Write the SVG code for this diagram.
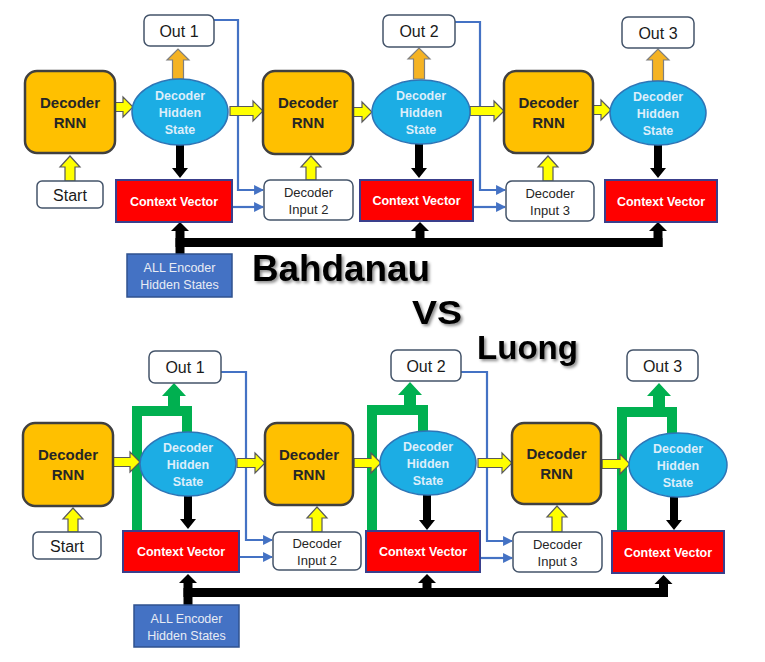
<svg xmlns="http://www.w3.org/2000/svg" width="765" height="662" viewBox="0 0 765 662">
<style>
.rnn{fill:#FFC000;stroke:#404040;stroke-width:2.5}
.rnnt{font-family:"Liberation Sans",Arial,sans-serif;font-weight:bold;font-size:15px;fill:#262626;text-anchor:middle}
.ell{fill:#1CADE4;stroke:#2E75B6;stroke-width:1.5}
.ellt{font-family:"Liberation Sans",Arial,sans-serif;font-weight:bold;font-size:12.5px;fill:#DDEEFA;text-anchor:middle}
.ctx{fill:#FF0000;stroke:#3A3F8C;stroke-width:2}
.ctxt{font-family:"Liberation Sans",Arial,sans-serif;font-weight:bold;font-size:12.5px;fill:#FFFFFF;text-anchor:middle}
.wbox{fill:#FFFFFF;stroke:#44546A;stroke-width:1.5}
.wt{font-family:"Liberation Sans",Arial,sans-serif;font-size:16px;fill:#1A1A1A;text-anchor:middle}
.it{font-family:"Liberation Sans",Arial,sans-serif;font-size:13px;fill:#262626;text-anchor:middle}
.enc{fill:#4472C4;stroke:#2F528F;stroke-width:1.5}
.enct{font-family:"Liberation Sans",Arial,sans-serif;font-size:12.5px;fill:#E8ECF4;text-anchor:middle}
.yel{fill:#FFFF00;stroke:#595959;stroke-width:1.2;stroke-linejoin:miter}
.org{fill:#F5B323;stroke:#7F7F7F;stroke-width:1.2}
.blk{fill:#000000}
.bus{stroke:#000000;stroke-width:9;fill:none}
.blue{stroke:#4472C4;stroke-width:2.2;fill:none;marker-end:url(#ah)}
.grn{stroke:#00B050;stroke-width:10;fill:none;stroke-linejoin:miter}
.grnf{fill:#00B050}
.title{font-family:"Liberation Sans",Arial,sans-serif;font-weight:bold;fill:#000000;filter:url(#sh)}
</style>
<defs>
<marker id="ah" viewBox="0 0 10 10" refX="9" refY="5" markerWidth="4.5" markerHeight="4.5" orient="auto" markerUnits="strokeWidth">
<path d="M0,0 L10,5 L0,10 Z" fill="#4472C4"/>
</marker>
<filter id="sh" x="-10%" y="-20%" width="130%" height="150%">
<feDropShadow dx="2" dy="2" stdDeviation="1.5" flood-color="#000000" flood-opacity="0.45"/>
</filter>
</defs>
<rect width="765" height="662" fill="#FFFFFF"/>

<g id="connectors">
<path class="blue" d="M214,20 H238 V190 H263"/>
<path class="blue" d="M232,207 H263"/>
<path class="blue" d="M455,22 H480 V190 H505"/>
<path class="blue" d="M473,207 H505"/>
<path class="bus" d="M180,254 V229"/>
<path class="bus" d="M175.5,242.5 H662.5"/>
<path class="bus" d="M420,247 V229"/>
<path class="bus" d="M658,247 V229"/>
<polygon class="blk" points="171,231 180,222 189,231"/>
<polygon class="blk" points="411,231 420,222 429,231"/>
<polygon class="blk" points="649,231 658,222 667,231"/>
<path class="blk" d="M176 145 V168 H172 L180 178 L188 168 H184 V145 Z"/>
<path class="blk" d="M415 144 V168 H411 L419 178 L427 168 H423 V144 Z"/>
<path class="blk" d="M654 145 V168 H650 L658 178 L666 168 H662 V145 Z"/>
<path class="yel" d="M115 102.5 H123 V97 L133 107 L123 117 V111.5 H115 Z"/>
<path class="yel" d="M230 106.5 H253 V101 L263 111 L253 121 V115.5 H230 Z"/>
<path class="yel" d="M353 107.5 H362 V102 L372 112 L362 122 V116.5 H353 Z"/>
<path class="yel" d="M470 106.5 H494 V101 L504 111 L494 121 V115.5 H470 Z"/>
<path class="yel" d="M593 105.5 H601 V100 L611 110 L601 120 V114.5 H593 Z"/>
<path class="yel" d="M65 181 V167 H60 L70 156 L80 167 H75 V181 Z"/>
<path class="yel" d="M306 180 V167 H301 L311 156 L321 167 H316 V180 Z"/>
<path class="yel" d="M543 181 V167 H538 L548 156 L558 167 H553 V181 Z"/>
<path class="org" d="M172.5 79 V60 H167 L178 49 L189 60 H183.5 V79 Z"/>
<path class="org" d="M413.5 79 V59 H408 L419 48 L430 59 H424.5 V79 Z"/>
<path class="org" d="M652.5 81 V60 H647 L658 49 L669 60 H663.5 V81 Z"/>

<path class="blue" d="M221,372 H246 V540 H272"/>
<path class="blue" d="M239,557 H272"/>
<path class="blue" d="M461,372 H487 V541 H512"/>
<path class="blue" d="M480,558 H512"/>
<path class="bus" d="M188,605 V581"/>
<path class="bus" d="M183.5,592.5 H668"/>
<path class="bus" d="M427,597 V581"/>
<path class="bus" d="M663.5,597 V581"/>
<polygon class="blk" points="179,583 188,574 197,583"/>
<polygon class="blk" points="418,583 427,574 436,583"/>
<polygon class="blk" points="654.5,584 663.5,575 672.5,584"/>
<path class="blk" d="M184 496 V519 H180 L188 529 L196 519 H192 V496 Z"/>
<path class="blk" d="M423 495 V520 H419 L427 530 L435 520 H431 V495 Z"/>
<path class="blk" d="M670 497 V520 H666 L674 530 L682 520 H678 V497 Z"/>
<path class="grn" d="M137,531 V411 H187 V440"/>
<path class="grnf" d="M168 408 V396 H162 L174 383 L186 396 H180 V408 Z"/>
<path class="grn" d="M372,531 V410 H423 V440"/>
<path class="grnf" d="M404 407 V395 H398 L410 382 L422 395 H416 V407 Z"/>
<path class="grn" d="M622,531 V412 H672 V440"/>
<path class="grnf" d="M653 409 V396 H647 L659 383 L671 396 H665 V409 Z"/>
<path class="yel" d="M113 457.5 H130 V452 L140 462 L130 472 V466.5 H113 Z"/>
<path class="yel" d="M237 458.5 H255 V453 L265 463 L255 473 V467.5 H237 Z"/>
<path class="yel" d="M354 458.5 H371 V453 L381 463 L371 473 V467.5 H354 Z"/>
<path class="yel" d="M478 458.5 H502 V453 L512 463 L502 473 V467.5 H478 Z"/>
<path class="yel" d="M602 459.5 H620 V454 L630 464 L620 474 V468.5 H602 Z"/>
<path class="yel" d="M68 532 V519 H63 L73 508 L83 519 H78 V532 Z"/>
<path class="yel" d="M312 532 V518 H307 L317 507 L327 518 H322 V532 Z"/>
<path class="yel" d="M552 532 V517 H547 L557 506 L567 517 H562 V532 Z"/>
</g>

<g id="b-out1"><rect class="wbox" x="144" y="15" width="70" height="31" rx="6"/><text class="wt" x="179" y="36.5">Out 1</text></g>
<g id="b-out2"><rect class="wbox" x="383" y="15" width="72" height="32" rx="6"/><text class="wt" x="419" y="37">Out 2</text></g>
<g id="b-out3"><rect class="wbox" x="622" y="17" width="72" height="31" rx="6"/><text class="wt" x="658" y="38.5">Out 3</text></g>
<g id="b-rnn1"><rect class="rnn" x="25" y="71" width="90" height="82" rx="12"/><text class="rnnt" x="70" y="108">Decoder</text><text class="rnnt" x="70" y="128">RNN</text></g>
<g id="b-rnn2"><rect class="rnn" x="263" y="71" width="90" height="83" rx="12"/><text class="rnnt" x="308" y="108">Decoder</text><text class="rnnt" x="308" y="128">RNN</text></g>
<g id="b-rnn3"><rect class="rnn" x="504" y="71" width="89" height="82" rx="12"/><text class="rnnt" x="548.5" y="108">Decoder</text><text class="rnnt" x="548.5" y="128">RNN</text></g>
<g id="b-hid1"><ellipse class="ell" cx="180" cy="112" rx="48" ry="33"/><text class="ellt" x="180" y="100">Decoder</text><text class="ellt" x="180" y="117">Hidden</text><text class="ellt" x="180" y="134">State</text></g>
<g id="b-hid2"><ellipse class="ell" cx="421" cy="112" rx="49" ry="32"/><text class="ellt" x="421" y="100">Decoder</text><text class="ellt" x="421" y="117">Hidden</text><text class="ellt" x="421" y="134">State</text></g>
<g id="b-hid3"><ellipse class="ell" cx="658" cy="113" rx="48" ry="32"/><text class="ellt" x="658" y="101">Decoder</text><text class="ellt" x="658" y="118">Hidden</text><text class="ellt" x="658" y="135">State</text></g>
<g id="b-ctx1"><rect class="ctx" x="116" y="180" width="116" height="42"/><text class="ctxt" x="174" y="205.5">Context Vector</text></g>
<g id="b-ctx2"><rect class="ctx" x="360" y="180" width="113" height="41"/><text class="ctxt" x="416.5" y="205">Context Vector</text></g>
<g id="b-ctx3"><rect class="ctx" x="605" y="180" width="112" height="42"/><text class="ctxt" x="661" y="205.5">Context Vector</text></g>
<g id="b-start"><rect class="wbox" x="37" y="181" width="66" height="27" rx="5"/><text class="wt" x="70" y="200.5">Start</text></g>
<g id="b-in2"><rect class="wbox" x="264" y="180" width="89" height="40" rx="6"/><text class="it" x="308.5" y="197">Decoder</text><text class="it" x="308.5" y="214">Input 2</text></g>
<g id="b-in3"><rect class="wbox" x="506" y="181" width="88" height="40" rx="6"/><text class="it" x="550" y="198">Decoder</text><text class="it" x="550" y="215">Input 3</text></g>
<g id="b-enc"><rect class="enc" x="127" y="254" width="105" height="43"/><text class="enct" x="179.5" y="272">ALL Encoder</text><text class="enct" x="179.5" y="289">Hidden States</text></g>

<g id="titles">
<text class="title" x="252" y="281" font-size="36" textLength="178" lengthAdjust="spacingAndGlyphs">Bahdanau</text>
<text class="title" x="412" y="324" font-size="33" textLength="50" lengthAdjust="spacingAndGlyphs">VS</text>
<text class="title" x="477" y="359" font-size="33" textLength="101" lengthAdjust="spacingAndGlyphs">Luong</text>
</g>

<g id="l-out1"><rect class="wbox" x="149" y="351" width="72" height="32" rx="6"/><text class="wt" x="185" y="372.5">Out 1</text></g>
<g id="l-out2"><rect class="wbox" x="391" y="350" width="70" height="31" rx="6"/><text class="wt" x="426" y="371.5">Out 2</text></g>
<g id="l-out3"><rect class="wbox" x="627" y="350" width="71" height="31" rx="6"/><text class="wt" x="662.5" y="371.5">Out 3</text></g>
<g id="l-rnn1"><rect class="rnn" x="23" y="423" width="90" height="83" rx="12"/><text class="rnnt" x="68" y="460">Decoder</text><text class="rnnt" x="68" y="480">RNN</text></g>
<g id="l-rnn2"><rect class="rnn" x="265" y="423" width="88" height="82" rx="12"/><text class="rnnt" x="309" y="460">Decoder</text><text class="rnnt" x="309" y="480">RNN</text></g>
<g id="l-rnn3"><rect class="rnn" x="512" y="423" width="89" height="81" rx="12"/><text class="rnnt" x="556.5" y="459">Decoder</text><text class="rnnt" x="556.5" y="479">RNN</text></g>
<g id="l-hid1"><ellipse class="ell" cx="188" cy="464" rx="48" ry="32"/><text class="ellt" x="188" y="452">Decoder</text><text class="ellt" x="188" y="469">Hidden</text><text class="ellt" x="188" y="486">State</text></g>
<g id="l-hid2"><ellipse class="ell" cx="428" cy="463" rx="48" ry="32"/><text class="ellt" x="428" y="451">Decoder</text><text class="ellt" x="428" y="468">Hidden</text><text class="ellt" x="428" y="485">State</text></g>
<g id="l-hid3"><ellipse class="ell" cx="678" cy="465" rx="49" ry="32"/><text class="ellt" x="678" y="453">Decoder</text><text class="ellt" x="678" y="470">Hidden</text><text class="ellt" x="678" y="487">State</text></g>
<g id="l-ctx1"><rect class="ctx" x="123" y="531" width="116" height="41"/><text class="ctxt" x="181" y="556">Context Vector</text></g>
<g id="l-ctx2"><rect class="ctx" x="366" y="531" width="114" height="41"/><text class="ctxt" x="423" y="556">Context Vector</text></g>
<g id="l-ctx3"><rect class="ctx" x="612" y="531" width="112" height="42"/><text class="ctxt" x="668" y="556.5">Context Vector</text></g>
<g id="l-start"><rect class="wbox" x="33" y="532" width="68" height="27" rx="5"/><text class="wt" x="67" y="551.5">Start</text></g>
<g id="l-in2"><rect class="wbox" x="273" y="532" width="88" height="38" rx="6"/><text class="it" x="317" y="548">Decoder</text><text class="it" x="317" y="565">Input 2</text></g>
<g id="l-in3"><rect class="wbox" x="513" y="532" width="89" height="40" rx="6"/><text class="it" x="557.5" y="549">Decoder</text><text class="it" x="557.5" y="566">Input 3</text></g>
<g id="l-enc"><rect class="enc" x="134" y="605" width="105" height="42"/><text class="enct" x="186.5" y="623">ALL Encoder</text><text class="enct" x="186.5" y="640">Hidden States</text></g>
</svg>
